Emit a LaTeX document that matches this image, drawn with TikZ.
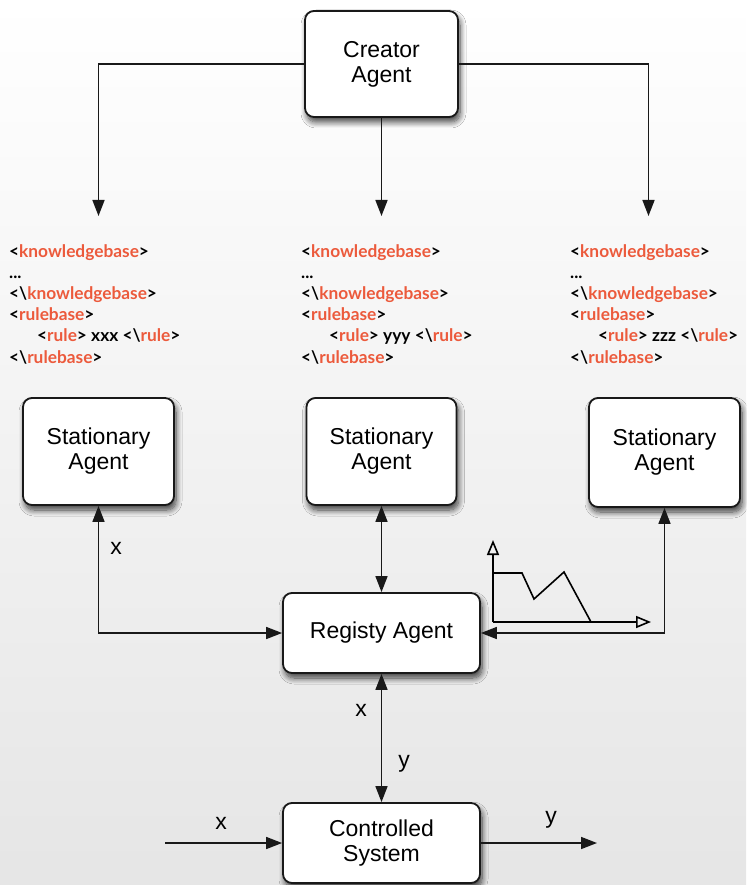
\documentclass[tikz,border=0pt]{standalone}
\usepackage{fontspec}
\setmainfont{Liberation Sans}
\newfontfamily\xmlfont{Lato}
\usetikzlibrary{arrows.meta,shadows.blur}
\definecolor{xmlred}{RGB}{236,90,60}
\newcommand\xtag[1]{<\textcolor{xmlred}{#1}>}
\newcommand\xend[1]{<\textbackslash\textcolor{xmlred}{#1}>}
\newcommand\xmlblock[1]{\xtag{knowledgebase}\\
...\\
\xend{knowledgebase}\\
\xtag{rulebase}\\
\hspace*{28pt}\xtag{rule} #1 \xend{rule}\\
\xend{rulebase}}
\begin{document}
\begin{tikzpicture}[x=1pt,y=-1pt,
  >={Triangle[length=16pt,width=12pt]},
  agent/.style={draw=black!90, line width=1.8pt, rounded corners=9pt, fill=white,
    align=center, font=\fontsize{23}{25}\selectfont, inner sep=0pt,
    blur shadow={shadow xshift=2pt,shadow yshift=-5pt,shadow blur steps=10,shadow opacity=75,shadow blur radius=6pt}},
  conn/.style={line width=1.6pt, draw=black!90},
  lbl/.style={font=\fontsize{23}{25}\selectfont, inner sep=0pt},
  xml/.style={font=\xmlfont\bfseries\fontsize{17.3}{21.2}\selectfont, align=left, anchor=base west, inner sep=0pt},
  opentip/.style={-{Triangle[open,length=15pt,width=12pt]}, line width=1.6pt}
]
\useasboundingbox (0,0) rectangle (746,885);
\shade[top color=white, middle color=black!4, bottom color=black!10] (0,0) rectangle (746,885);

% agents
\node[agent, minimum width=153pt, minimum height=106pt] (creator) at (381.5,64) {Creator\\Agent};
\node[agent, minimum width=151pt, minimum height=107pt] (s1) at (98.5,451.5) {Stationary\\Agent};
\node[agent, minimum width=150pt, minimum height=107pt] (s2) at (381.5,451.5) {Stationary\\Agent};
\node[agent, minimum width=151pt, minimum height=109pt] (s3) at (664.5,452.5) {Stationary\\Agent};
\node[agent, minimum width=197pt, minimum height=80pt] (reg) at (381.5,633) {Registy Agent};
\node[agent, minimum width=197pt, minimum height=80pt] (ctrl) at (381.5,843) {Controlled\\System};

% xml blocks (anchor = baseline of last line)
\node[xml] (k1) at (9,363) {\xmlblock{xxx}};
\node[xml] (k2) at (301,363) {\xmlblock{yyy}};
\node[xml] (k3) at (570,363) {\xmlblock{zzz}};

% creator fan-out
\coordinate (t1) at (98.5,216);
\coordinate (t2) at (381.5,216);
\coordinate (t3) at (648.5,216);
\draw[conn,->] (creator.west) -| (t1);
\draw[conn,->] (creator.south) -- (t2);
\draw[conn,->] (creator.east) -| (t3);

% stationary <-> registry
\draw[conn,<->] (s1.south) |- (reg.west);
\draw[conn,<->] (s2.south) -- (reg.north);
\draw[conn,<->] (s3.south) |- (reg.east);

% registry <-> controlled
\draw[conn,<->] (reg.south) -- (ctrl.north);
\coordinate (in) at (165,843);
\coordinate (out) at (597,843);
\draw[conn,->] (in) -- (ctrl.west);
\draw[conn,->] (ctrl.east) -- (out);

% labels
\node[lbl] (lx1) at (116,548) {x};
\node[lbl] (lx2) at (361,710) {x};
\node[lbl] (ly2) at (404,764) {y};
\node[lbl] (lx3) at (221,823) {x};
\node[lbl] (ly3) at (551,820) {y};

% small chart
\coordinate (o) at (493,622);
\coordinate (ya) at (493,540);
\coordinate (xa) at (651,622);
\draw[opentip] (o) -- (ya);
\draw[opentip] (o) -- (xa);
\draw[line width=1.6pt, line join=miter] (493,573) -- (522,573) -- (534,599) -- (564,572) -- (591,622);
\end{tikzpicture}
\end{document}
